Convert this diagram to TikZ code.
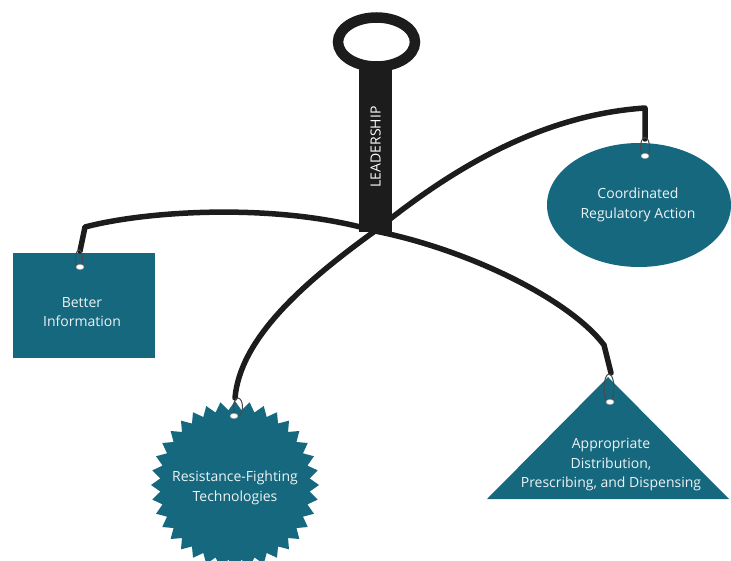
\documentclass[tikz,border=0pt]{standalone}
\usepackage{fontspec}
\setmainfont{Open Sans}
\usetikzlibrary{shapes.geometric}
\definecolor{teal}{RGB}{22,104,127}
\definecolor{ink}{RGB}{28,28,28}
\tikzset{
  arm/.style={draw=ink, line width=5.5pt, line cap=round, line join=round},
  loopline/.style={draw=ink!80, line width=1pt},
  hole/.style={fill=white, draw=gray!70, line width=0.4pt},
  label/.style={text=white!92!teal, align=center, font=\fontsize{14}{19.5}\selectfont},
  card/.style={fill=teal, draw=none},
}
\begin{document}
\begin{tikzpicture}[x=1pt, y=-1pt]
\useasboundingbox (0,0) rectangle (731,561);

% shapes hanging from the mobile
\node[card, rectangle, minimum width=142pt, minimum height=105pt] (info) at (84,305.5) {};
\node[label] (infotext) at (82,312) {Better\\Information};
\node[card, ellipse, minimum width=184pt, minimum height=124pt, inner sep=0pt] (reg) at (639,205) {};
\node[label] (regtext) at (638,205) {Coordinated\\Regulatory Action};
\node[card, star, star points=36, star point ratio=1.12, minimum size=168pt, inner sep=0pt]
  (tech) at (235,485) {};
\node[label] (techtext) at (235,488) {Resistance-Fighting\\Technologies};
\coordinate (apex) at (608,377);
\coordinate (baseL) at (487,499);
\coordinate (baseR) at (729,499);
\fill[teal] (apex) -- (baseL) -- (baseR) -- cycle;
\node[label] (dist) at (611,465) {Appropriate\\Distribution,\\Prescribing, and Dispensing};

% the handle and central bar
\draw[ink, line width=10.5pt] (376.5,42) ellipse [x radius=38.5pt, y radius=24.5pt];
\fill[ink] (359,64) rectangle (392,232);
\node[rotate=90, text=white, font=\fontsize{14}{14}\selectfont] (lead) at (375.5,147) {LEADERSHIP};

\coordinate (hub) at (375,231);

% hook points where each arm ends
\coordinate (hookL) at (80,251);
\coordinate (hookR) at (645,139);
\coordinate (hookT) at (235,398);
\coordinate (hookD) at (611,373);

% arms
\draw[arm] (hub) .. controls (280,203) and (150,210) .. (85,227) -- (hookL);
\draw[arm] (hub) .. controls (450,170) and (540,115) .. (645,108) -- (hookR);
\draw[arm] (hub) .. controls (300,285) and (240,340) .. (hookT);
\draw[arm] (hub) .. controls (470,250) and (570,300) .. (604,345) -- (hookD);

% wire loops and punched holes
\draw[loopline] (79,259) ellipse [x radius=3.5pt, y radius=9pt];
\draw[hole] (80,267) ellipse [x radius=4pt, y radius=2.6pt];
\draw[loopline] (645,147) ellipse [x radius=4.5pt, y radius=9.5pt];
\draw[hole] (645,156) ellipse [x radius=4pt, y radius=2.6pt];
\draw[loopline] (238,407) ellipse [x radius=4.5pt, y radius=9pt];
\draw[hole] (234,416) ellipse [x radius=4pt, y radius=2.6pt];
\draw[loopline] (609,388) ellipse [x radius=5pt, y radius=14pt];
\draw[hole] (610,402) ellipse [x radius=4pt, y radius=2.6pt];
\end{tikzpicture}
\end{document}
